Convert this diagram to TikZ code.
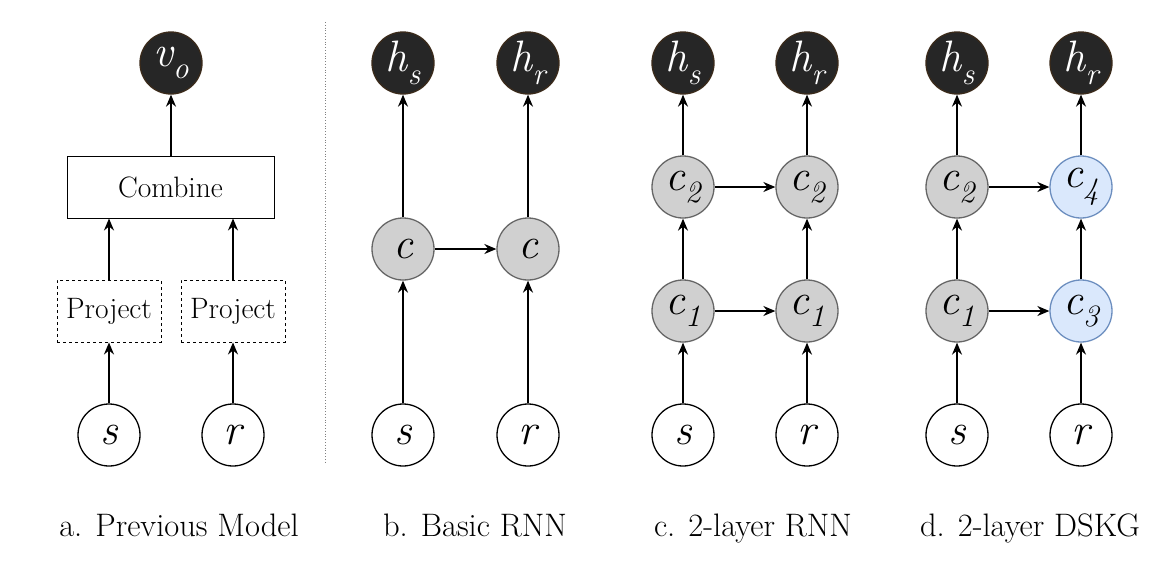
\documentclass[tikz,border=0pt]{standalone}
\usetikzlibrary{arrows.meta}
\definecolor{darkfill}{HTML}{262626}
\definecolor{darkedge}{HTML}{3A2A1A}
\definecolor{grayfill}{HTML}{D0D0D0}
\definecolor{grayedge}{HTML}{666666}
\definecolor{bluefill}{HTML}{DAE8FC}
\definecolor{blueedge}{HTML}{6C8EBF}
\newcommand{\mysub}[2]{\textit{#1}\raisebox{-0.28em}{\fontsize{31}{31}\selectfont\textit{#2}}}
\tikzset{
  circ/.style={circle, minimum size=62pt, inner sep=0pt, line width=1.3pt, font=\fontsize{44}{44}\selectfont\itshape},
  outnode/.style={circ, fill=darkfill, draw=darkedge, text=white},
  innode/.style={circ, fill=white, draw=black},
  graynode/.style={circ, fill=grayfill, draw=grayedge},
  bluenode/.style={circ, fill=bluefill, draw=blueedge},
  boxnode/.style={rectangle, draw=black, line width=0.9pt, inner sep=0pt, font=\fontsize{29.5}{29.5}\selectfont},
  arr/.style={line width=1.5pt, -{Stealth[length=12pt,width=10pt]}},
  caption/.style={font=\fontsize{32.5}{32.5}\selectfont, anchor=base}
}
\begin{document}
\begin{tikzpicture}[x=1pt,y=-1pt]
\useasboundingbox (0,0) rectangle (1162,565);
% ---- panel a
\node[outnode] (vo) at (171,63) {\mysub{v}{o}};
\node[boxnode, minimum width=207pt, minimum height=62pt] (cmb) at (170.5,187) {Combine};
\node[boxnode, dashed, minimum width=104pt, minimum height=62pt] (pL) at (109,311) {Project};
\node[boxnode, dashed, minimum width=104pt, minimum height=62pt] (pR) at (233,311) {Project};
\node[innode] (sA) at (109,435) {s};
\node[innode] (rA) at (233,435) {r};
\draw[arr] (cmb.north -| vo) -- (vo);
\draw[arr] (pL) -- (pL |- cmb.south);
\draw[arr] (pR) -- (pR |- cmb.south);
\draw[arr] (sA) -- (pL);
\draw[arr] (rA) -- (pR);
% divider
\coordinate (dtop) at (325,22);
\coordinate (dbot) at (325,462);
\draw[gray, dotted, line width=0.8pt] (dtop) -- (dbot);
% ---- panel b
\node[outnode] (hsB) at (403,63) {\mysub{h}{s}};
\node[outnode] (hrB) at (528,63) {\mysub{h}{r}};
\node[graynode] (cB1) at (403,249) {c};
\node[graynode] (cB2) at (528,249) {c};
\node[innode] (sB) at (403,435) {s};
\node[innode] (rB) at (528,435) {r};
\draw[arr] (sB) -- (cB1);
\draw[arr] (rB) -- (cB2);
\draw[arr] (cB1) -- (hsB);
\draw[arr] (cB2) -- (hrB);
\draw[arr] (cB1) -- (cB2);
% ---- panel c
\node[outnode] (hsC) at (683,63) {\mysub{h}{s}};
\node[outnode] (hrC) at (807,63) {\mysub{h}{r}};
\node[graynode] (c2L) at (683,187) {\mysub{c}{2}};
\node[graynode] (c2R) at (807,187) {\mysub{c}{2}};
\node[graynode] (c1L) at (683,311) {\mysub{c}{1}};
\node[graynode] (c1R) at (807,311) {\mysub{c}{1}};
\node[innode] (sC) at (683,435) {s};
\node[innode] (rC) at (807,435) {r};
\draw[arr] (sC) -- (c1L);
\draw[arr] (rC) -- (c1R);
\draw[arr] (c1L) -- (c2L);
\draw[arr] (c1R) -- (c2R);
\draw[arr] (c2L) -- (hsC);
\draw[arr] (c2R) -- (hrC);
\draw[arr] (c1L) -- (c1R);
\draw[arr] (c2L) -- (c2R);
% ---- panel d
\node[outnode] (hsD) at (957,63) {\mysub{h}{s}};
\node[outnode] (hrD) at (1081,63) {\mysub{h}{r}};
\node[graynode] (d2) at (957,187) {\mysub{c}{2}};
\node[bluenode] (d4) at (1081,187) {\mysub{c}{4}};
\node[graynode] (d1) at (957,311) {\mysub{c}{1}};
\node[bluenode] (d3) at (1081,311) {\mysub{c}{3}};
\node[innode] (sD) at (957,435) {s};
\node[innode] (rD) at (1081,435) {r};
\draw[arr] (sD) -- (d1);
\draw[arr] (rD) -- (d3);
\draw[arr] (d1) -- (d2);
\draw[arr] (d3) -- (d4);
\draw[arr] (d2) -- (hsD);
\draw[arr] (d4) -- (hrD);
\draw[arr] (d1) -- (d3);
\draw[arr] (d2) -- (d4);
% ---- captions
\node[caption] (capA) at (179,536) {a. Previous Model};
\node[caption] (capB) at (475,536) {b. Basic RNN};
\node[caption] (capC) at (753,536) {c. 2-layer RNN};
\node[caption] (capD) at (1030,536) {d. 2-layer DSKG};
\end{tikzpicture}
\end{document}
